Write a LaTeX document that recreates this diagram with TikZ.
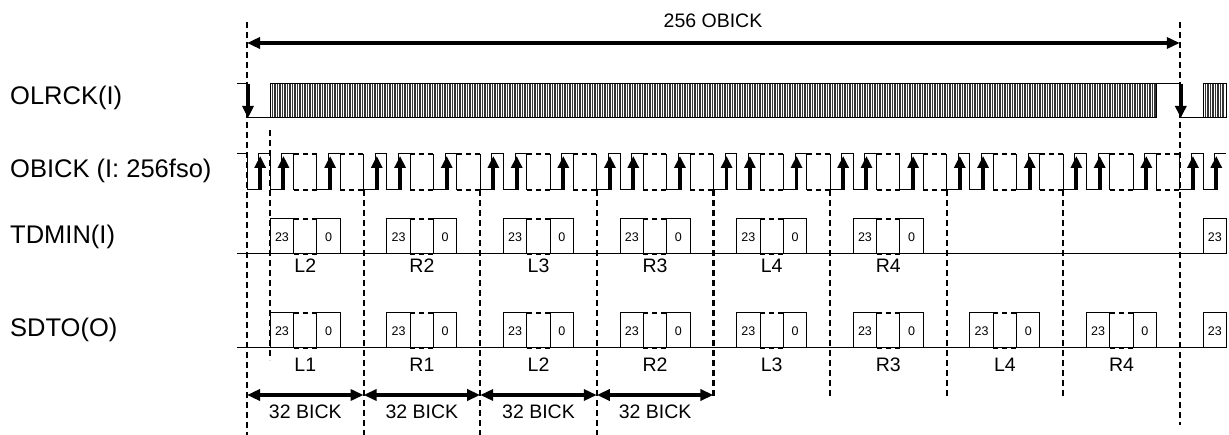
\documentclass[tikz,border=0pt]{standalone}
\usepackage{fontspec}
\setmainfont{Liberation Sans}
\usetikzlibrary{arrows.meta}
\begin{document}
\begin{tikzpicture}[x=1pt,y=-1pt,
  sig/.style={line width=1pt,black},
  dsh/.style={line width=2pt,dash pattern=on 5pt off 4pt},
  vdsh/.style={line width=2.2pt,dash pattern=on 6pt off 4pt},
  clkarr/.style={line width=3.8pt,-{Triangle[length=12pt,width=11pt]}},
  bigarr/.style={line width=3.8pt,{Triangle[length=13pt,width=11pt]}-{Triangle[length=13pt,width=11pt]}},
  lab/.style={inner sep=0pt,anchor=west,font=\fontsize{25.5}{29}\selectfont},
  sml/.style={inner sep=0pt,font=\fontsize{19.5}{22}\selectfont},
  dig/.style={inner sep=0pt,font=\fontsize{12.5}{14}\selectfont},
  hatch/.style={line width=1.1pt,black!80}]
\useasboundingbox (0,0) rectangle (1229,435);
\def\fw{116.6}
% row labels
\node[lab] (lolrck) at (10,98) {OLRCK(I)};
\node[lab] (lobick) at (10,171) {OBICK (I: 256fso)};
\node[lab] (ltdmin) at (10,237) {TDMIN(I)};
\node[lab] (lsdto) at (10,330) {SDTO(O)};
% 256 OBICK
\draw[bigarr] (247,43) -- (1179.8,43);
\node[sml] (l256) at (713,21) {256 OBICK};
% OLRCK
\draw[sig] (237,84) -- (247,84) -- (247,118) -- (270.3,118);
\foreach \x in {272.5,275,...,1155} \draw[hatch] (\x,84) -- (\x,118);
\draw[sig] (270.3,84) rectangle (1156.5,118);
\draw[sig] (1156.5,84) -- (1179.8,84) -- (1179.8,118) -- (1203.1,118);
\foreach \x in {1205.5,1208,...,1225} \draw[hatch] (\x,84) -- (\x,118);
\draw[sig] (1203.1,84) rectangle (1226.4,118);
\draw[clkarr] (248,84) -- (248,118);
\draw[clkarr] (1180.8,84) -- (1180.8,118);
% OBICK lead-in
\draw[sig] (237,154) -- (247,154);
% data baselines
\draw[sig] (237,254) -- (1226.4,254);
\draw[sig] (237,348) -- (1226.4,348);
% frames
\foreach \k/\tl/\sl in {0/L2/L1,1/R2/R1,2/L3/L2,3/R3/R2,4/L4/L3,5/R4/R3,6//L4,7//R4} {
  \begin{scope}[xshift=247pt+\k*\fw pt,x=11.66pt]
    \draw[sig] (0,154) -- (0,190) -- (1,190) -- (1,154) -- (2,154) -- (2,190) -- (3,190) -- (3,154) -- (4,154) -- (4,190);
    \draw[dsh] (4,154) -- (6,154) (4,190) -- (6,190);
    \draw[sig] (6,154) -- (6,190) -- (7,190) -- (7,154) -- (8,154) -- (8,190);
    \draw[dsh] (8,154) -- (10,154) (8,190) -- (10,190);
    \foreach \a in {1,3,7} \draw[clkarr,xshift=1.5pt] (\a,190) -- (\a,156);
    % SDTO boxes
    \draw[sig] (2,313) rectangle (4,348);
    \node[dig] (sa\k) at (3,331) {23};
    \draw[dsh] (4,313) -- (6,313) (4,348) -- (6,348);
    \draw[sig] (6,313) rectangle (8,348);
    \node[dig] (sb\k) at (7,331) {0};
    \node[sml] (sl\k) at (5,364.5) {\sl};
    \ifnum\k<6
      \draw[sig] (2,219) rectangle (4,254);
      \node[dig] (ta\k) at (3,237) {23};
      \draw[dsh] (4,219) -- (6,219) (4,254) -- (6,254);
      \draw[sig] (6,219) rectangle (8,254);
      \node[dig] (tb\k) at (7,237) {0};
      \node[sml] (tl\k) at (5,265.5) {\tl};
    \fi
  \end{scope}
}
% final partial frame
\begin{scope}[xshift=247pt+8*\fw pt,x=11.66pt]
  \draw[sig] (0,154) -- (0,190) -- (1,190) -- (1,154) -- (2,154) -- (2,190) -- (3,190) -- (3,154) -- (4,154);
  \foreach \a in {1,3} \draw[clkarr,xshift=1.5pt] (\a,190) -- (\a,156);
  \draw[sig] (2,219) rectangle (4,254);
  \node[dig] (taf) at (3,237) {23};
  \draw[sig] (2,313) rectangle (4,348);
  \node[dig] (saf) at (3,331) {23};
\end{scope}
% vertical dashed guides
\draw[vdsh] (247,22) -- (247,435);
\draw[vdsh] (1179.8,22) -- (1179.8,425);
\draw[vdsh] (270.3,130) -- (270.3,360);
\foreach \k in {1,2,3} \draw[vdsh] (247+\k*\fw,190) -- (247+\k*\fw,435);
\foreach \k in {4,5,6,7} \draw[vdsh] (247+\k*\fw,190) -- (247+\k*\fw,396);
% 32 BICK
\foreach \k in {0,1,2,3} {
  \draw[bigarr] (247+\k*\fw,395) -- (247+\k*\fw+\fw,395);
  \node[sml] (b\k) at (247+\k*\fw+0.5*\fw,412) {32 BICK};
}
\end{tikzpicture}
\end{document}
